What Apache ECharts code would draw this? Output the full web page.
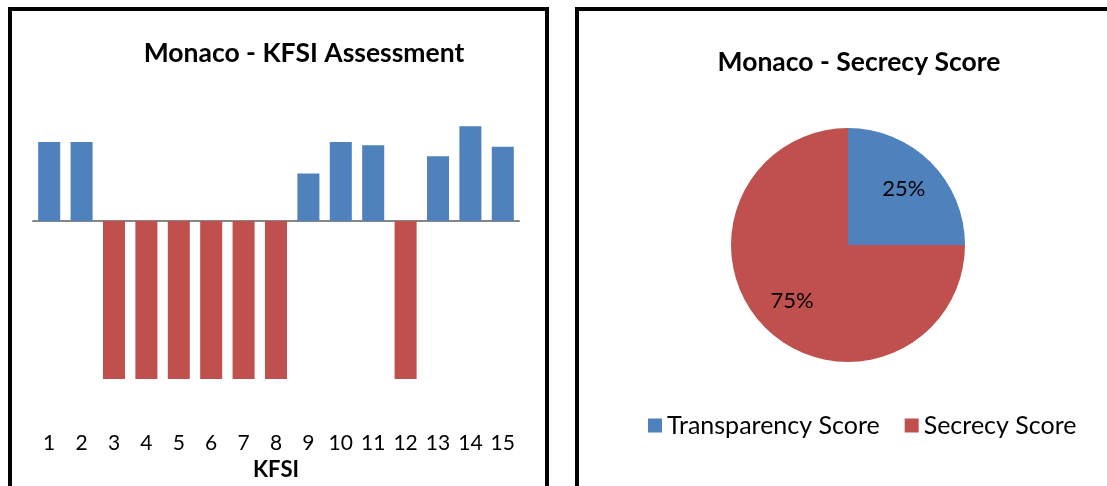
<!DOCTYPE html>
<html><head><meta charset="utf-8">
<script src="https://cdn.jsdelivr.net/npm/echarts@6/dist/echarts.min.js"></script>
<style>html,body{margin:0;padding:0;background:#fff}#c{width:1107px;height:486px}</style>
</head><body><div id="c"></div>
<script>
const categories = ['1','2','3','4','5','6','7','8','9','10','11','12','13','14','15'];
const kfsiValues = [50,50,-100,-100,-100,-100,-100,-100,30,50,48,-100,41,60,47];
const pieNames = ['Transparency Score','Secrecy Score'];
const pieValues = [25,75];
const blue = '#4F81BD', red = '#C0504D';
const F = 'Lato';
const chart = echarts.init(document.getElementById('c'));
chart.setOption({
  animation:false,
  textStyle:{fontFamily:F},
  title:[
    {text:'Monaco - KFSI Assessment',left:299,top:35,textAlign:'center',textStyle:{fontFamily:F,fontSize:26.5,fontWeight:'bold',color:'#000'}},
    {text:'Monaco - Secrecy Score',left:854,top:44,textAlign:'center',textStyle:{fontFamily:F,fontSize:26.5,fontWeight:'bold',color:'#000'}}
  ],
  graphic:[
    {type:'rect',shape:{x:10,y:9,width:537,height:500},style:{fill:'none',stroke:'#000',lineWidth:4}},
    {type:'rect',shape:{x:577,y:9,width:560,height:500},style:{fill:'none',stroke:'#000',lineWidth:4}}
  ],
  grid:{left:33,width:486,top:63,height:318},
  xAxis:{type:'category',data:categories,name:'KFSI',nameLocation:'middle',nameGap:80,
    nameTextStyle:{fontFamily:F,fontSize:22,fontWeight:'bold',color:'#000'},
    axisLine:{onZero:true,lineStyle:{color:'#868686',width:2}},axisTick:{show:false},
    axisLabel:{fontFamily:F,fontSize:21,color:'#000',margin:0,padding:[54,0,0,0]}},
  yAxis:{type:'value',min:-100,max:100,show:false,splitLine:{show:false}},
  legend:{data:pieNames,left:643,top:408,itemWidth:14,itemHeight:14,itemGap:25,icon:'rect',
    textStyle:{fontFamily:F,fontSize:25,color:'#000'}},
  series:[
    {type:'bar',data:kfsiValues,barCategoryGap:'32%',
      itemStyle:{color:p=>p.value<0?red:blue}},
    {type:'pie',name:'Secrecy',center:[848,245],radius:[0,117],startAngle:90,clockwise:true,
      data:pieNames.map((n,i)=>({name:n,value:pieValues[i]})),
      color:[blue,red],label:{show:false},labelLine:{show:false},emphasis:{disabled:true}},
    {type:'pie',name:'labels',center:[848,245],radius:[35,117],startAngle:90,clockwise:true,silent:true,
      legendHoverLink:false,
      data:pieNames.map((n,i)=>({name:n+' ',value:pieValues[i]})),
      itemStyle:{color:'rgba(0,0,0,0)'},
      label:{show:true,position:'inside',formatter:'{d}%',fontFamily:F,fontSize:22,color:'#000'},
      labelLine:{show:false},emphasis:{disabled:true}}
  ]
});
</script></body></html>
